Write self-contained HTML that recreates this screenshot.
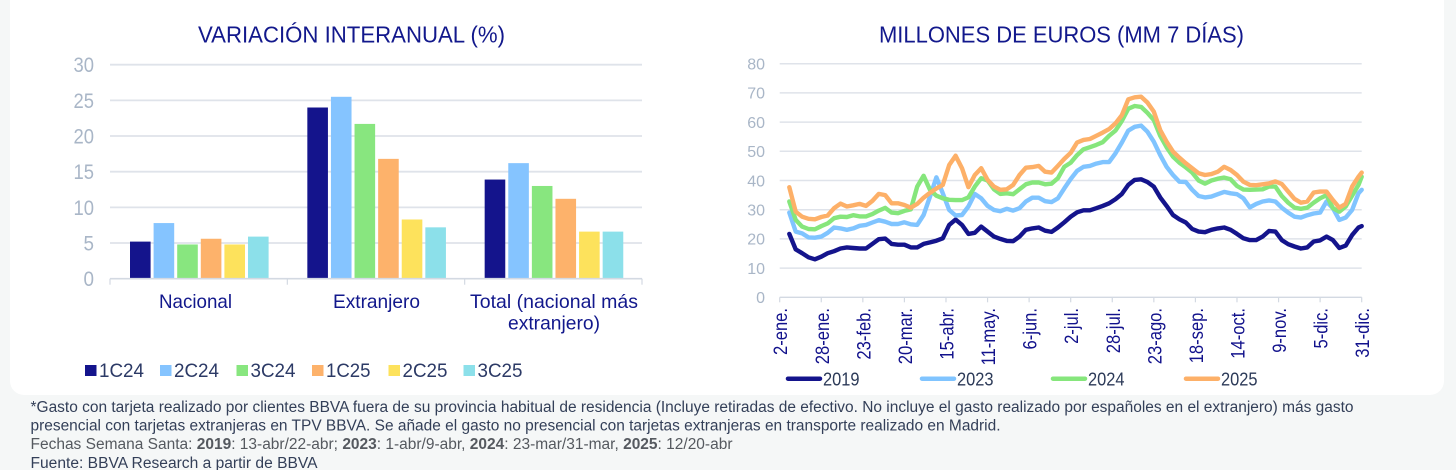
<!DOCTYPE html>
<html lang="es">
<head>
<meta charset="utf-8">
<title>Gasto con tarjeta BBVA</title>
<style>
html,body{margin:0;padding:0;background:#f5f7f7;}
body{width:1456px;height:470px;overflow:hidden;position:relative;font-family:"Liberation Sans",sans-serif;}
#card{position:absolute;left:10px;top:-20px;width:1434px;height:415px;background:#fff;border-radius:14px;}
svg{position:absolute;left:0;top:0;}
text{font-family:"Liberation Sans",sans-serif;}
</style>
</head>
<body>
<div id="card"></div>
<svg id="s" width="1456" height="470" viewBox="0 0 1456 470">
  <text x="351.5" y="42.5" text-anchor="middle" font-size="23.5" fill="#12188c" textLength="307" lengthAdjust="spacingAndGlyphs">VARIACIÓN INTERANUAL (%)</text>
  <text x="1061.5" y="42.5" text-anchor="middle" font-size="23.5" fill="#12188c" textLength="365" lengthAdjust="spacingAndGlyphs">MILLONES DE EUROS (MM 7 DÍAS)</text>
  <g id="left"></g>
  <g id="right"></g>
  <g fill="#333f58" font-size="15.5">
    <text x="30.5" y="412" textLength="1323" lengthAdjust="spacingAndGlyphs">*Gasto con tarjeta realizado por clientes BBVA fuera de su provincia habitual de residencia (Incluye retiradas de efectivo. No incluye el gasto realizado por españoles en el extranjero) más gasto</text>
    <text x="30.5" y="430.5" textLength="970" lengthAdjust="spacingAndGlyphs">presencial con tarjetas extranjeras en TPV BBVA. Se añade el gasto no presencial con tarjetas extranjeras en transporte realizado en Madrid.</text>
    <text x="30.5" y="449" fill="#55595f" textLength="702" lengthAdjust="spacingAndGlyphs">Fechas Semana Santa: <tspan font-weight="bold">2019</tspan>: 13-abr/22-abr; <tspan font-weight="bold">2023</tspan>: 1-abr/9-abr, <tspan font-weight="bold">2024</tspan>: 23-mar/31-mar, <tspan font-weight="bold">2025</tspan>: 12/20-abr</text>
    <text x="30.5" y="468" textLength="287" lengthAdjust="spacingAndGlyphs">Fuente: BBVA Research a partir de BBVA</text>
  </g>
</svg>
<script>
// ---- Left chart data ----
const barCategories = [["Nacional"], ["Extranjero"], ["Total (nacional más", "extranjero)"]];
const barSeriesNames = ["1C24", "2C24", "3C24", "1C25", "2C25", "3C25"];
const bars1C24 = [5.2, 24.0, 13.9];
const bars2C24 = [7.8, 25.5, 16.2];
const bars3C24 = [4.8, 21.7, 13.0];
const bars1C25 = [5.6, 16.8, 11.2];
const bars2C25 = [4.8, 8.3, 6.6];
const bars3C25 = [5.9, 7.2, 6.6];
const barTicks = [0, 5, 10, 15, 20, 25, 30];

// ---- Right chart data ----
const lineTickLabels = ["2-ene.", "28-ene.", "23-feb.", "20-mar.", "15-abr.", "11-may.", "6-jun.", "2-jul.", "28-jul.", "23-ago.", "18-sep.", "14-oct.", "9-nov.", "5-dic.", "31-dic."];
const lineTickDays = [0, 26, 52, 78, 104, 130, 156, 182, 208, 234, 260, 286, 312, 338, 364];
const lineYTicks = [0, 10, 20, 30, 40, 50, 60, 70, 80];
const lineDays = [6,10,14,18,22,26,30,34,38,42,46,50,54,58,62,66,70,74,78,82,86,90,94,98,102,106,110,114,118,122,126,130,134,138,142,146,150,154,158,162,166,170,174,178,182,186,190,194,198,202,206,210,214,218,222,226,230,234,238,242,246,250,254,258,262,266,270,274,278,282,286,290,294,298,302,306,310,314,318,322,326,330,334,338,342,346,350,354,358,362,364];
const line2019 = [21.7,16.4,15.1,13.7,13.0,13.9,15.1,15.8,16.7,17.1,16.9,16.7,16.7,18.3,19.9,20.1,18.3,18.0,18.0,17.1,17.1,18.3,18.8,19.4,20.2,24.8,26.6,24.8,21.7,22.1,24.2,22.5,20.8,20.0,19.3,19.2,20.8,23.1,23.6,23.9,22.8,22.4,23.9,25.7,27.6,29.1,29.8,29.8,30.5,31.3,32.2,33.6,35.4,38.5,40.2,40.4,39.5,37.9,34.2,31.3,28.2,26.7,25.6,23.4,22.5,22.3,23.1,23.6,23.9,23.1,21.7,20.2,19.6,19.6,20.8,22.7,22.5,19.6,18.2,17.4,16.7,17.1,19.1,19.5,20.8,19.6,16.9,17.7,21.3,23.9,24.4];
const line2023 = [29.0,22.5,21.9,20.5,20.4,20.8,22.1,23.9,23.6,23.1,23.6,24.5,24.8,25.6,26.4,25.9,25.1,25.1,25.7,25.0,24.8,28.2,34.5,41.1,35.6,29.9,28.0,28.2,31.1,35.4,33.9,31.3,29.9,29.5,30.3,29.7,30.5,32.8,34.1,34.1,32.9,32.6,33.9,37.3,40.5,43.3,44.7,45.0,45.8,46.3,46.3,49.3,53.0,57.1,58.4,58.8,56.7,53.3,48.7,44.7,41.9,39.6,39.5,36.8,34.7,34.2,34.5,35.3,36.1,35.6,35.3,33.9,30.8,32.0,32.8,33.2,32.8,30.7,29.0,27.6,27.3,28.1,28.7,29.0,32.8,30.5,26.5,27.3,29.9,35.6,36.8];
const line2024 = [32.8,26.5,24.2,23.4,23.3,24.4,25.3,27.1,27.6,27.5,28.1,27.7,27.7,28.5,29.7,30.6,29.0,28.8,29.6,30.1,37.9,41.6,36.8,34.8,33.9,33.4,33.3,33.3,34.2,37.9,40.8,40.0,37.0,35.4,35.6,35.3,37.0,38.7,39.3,39.3,38.7,38.9,40.8,44.7,46.1,48.7,50.7,51.4,52.2,53.1,55.3,57.1,60.4,64.6,65.5,65.2,63.2,60.7,55.3,51.4,48.2,46.1,44.5,42.7,40.0,38.9,40.0,40.6,41.0,40.4,38.1,36.9,36.8,36.9,37.0,37.9,37.9,34.7,32.4,30.7,30.3,30.7,32.4,33.9,35.0,30.5,29.3,31.1,34.8,38.5,41.3];
const line2025 = [37.7,29.3,27.6,26.9,26.7,27.5,28.0,30.5,32.1,31.1,31.5,32.0,31.3,33.0,35.4,35.0,32.2,32.2,31.6,30.7,32.0,34.1,35.8,37.3,38.5,45.3,48.5,44.2,37.7,41.9,44.2,40.2,37.9,36.8,37.0,38.5,41.9,44.4,44.6,45.0,43.0,42.7,45.0,47.4,49.5,53.0,53.9,54.2,55.3,56.4,57.6,59.6,62.4,67.8,68.5,68.7,66.7,63.6,57.3,53.3,49.9,47.8,45.9,44.2,42.5,41.9,42.2,43.0,44.7,43.6,41.9,39.6,38.5,38.4,38.7,39.0,39.7,38.8,36.2,33.7,32.4,32.8,35.9,36.2,36.2,33.3,30.7,32.0,37.9,41.3,42.7];

const NS = "http://www.w3.org/2000/svg";
function mk(parent, tag, attrs, txt) {
  const el = document.createElementNS(NS, tag);
  for (const k in attrs) el.setAttribute(k, attrs[k]);
  if (txt !== undefined) el.textContent = txt;
  parent.appendChild(el);
  return el;
}

// ---- Left chart ----
(function () {
  const g = document.getElementById("left");
  const x0 = 110, x1 = 642, yZero = 278.7, yTop = 64.7, yMax = 30;
  const y = v => yZero - (v / yMax) * (yZero - yTop);
  const groupW = (x1 - x0) / barCategories.length;
  const barW = 20.6, barStep = 23.6, pad = 20;
  const barX = (c, s) => x0 + c * groupW + pad + s * barStep;
  const colors = ["#14148c", "#85c4ff", "#88e67f", "#fdb26b", "#fde25c", "#8ce0ea"];
  const series = [bars1C24, bars2C24, bars3C24, bars1C25, bars2C25, bars3C25];

  barTicks.forEach(t => {
    if (t > 0) {
      const l = mk(g, "line", { x1: x0, x2: x1, y1: y(t), y2: y(t), stroke: "#dfe3ea", "stroke-width": 1.8 });
      
      
    }
    const lab = mk(g, "text", { x: 94, y: y(t) + 7.5, "text-anchor": "end", "font-size": 21.5, fill: "#a9b6c7", textLength: t < 10 ? 10.5 : 20.5, lengthAdjust: "spacingAndGlyphs" }, String(t));
    
    
  });

  series.forEach((vals, s) => {
    vals.forEach((v, c) => {
      const r = mk(g, "rect", { x: barX(c, s), y: y(v), width: barW, height: yZero - y(v), fill: colors[s] });
      
      
    });
  });

  const axis = mk(g, "line", { x1: x0, x2: x1, y1: yZero, y2: yZero, stroke: "#d3d9e2", "stroke-width": 1.6 });
  
  
  for (let i = 0; i <= barCategories.length; i++) {
    const tx = x0 + i * groupW;
    const tk = mk(g, "line", { x1: tx, x2: tx, y1: yZero, y2: yZero + 6, stroke: "#d3d9e2", "stroke-width": 1.2 });
    
    
  }
  const catWidths = [[73], [87], [168, 92]];
  const catCx = [195.5, 376.5, 554];
  barCategories.forEach((lines, c) => {
    lines.forEach((ln, i) => {
      const t = mk(g, "text", { x: catCx[c], y: 308 + i * 21.5, "text-anchor": "middle", "font-size": 19.5, fill: "#12188c", textLength: catWidths[c][i], lengthAdjust: "spacingAndGlyphs" }, ln);
      
      
    });
  });

  const legendX = [85, 160, 236.5, 312, 388.5, 463.5];
  const legendW = [45, 45, 45, 44.5, 45, 45];
  barSeriesNames.forEach((n, s) => {
    const sw = mk(g, "rect", { x: legendX[s], y: 365, width: 11.5, height: 11, fill: colors[s] });
    
    
    const t = mk(g, "text", { x: legendX[s] + 14, y: 377, "font-size": 19.5, fill: "#2c3a66", textLength: legendW[s], lengthAdjust: "spacingAndGlyphs" }, n);
    
    
  });
})();

// ---- Right chart ----
(function () {
  const g = document.getElementById("right");
  const x0 = 779.7, x1 = 1361.7, yZero = 297.3, yTop = 63.7, yMax = 80, dayMax = 364;
  const y = v => yZero - (v / yMax) * (yZero - yTop);
  const x = d => x0 + (d / dayMax) * (x1 - x0);

  lineYTicks.forEach(t => {
    if (t > 0) {
      const l = mk(g, "line", { x1: x0, x2: x1, y1: y(t), y2: y(t), stroke: "#dfe3ea", "stroke-width": 1.5 });
      
      
    }
    const lab = mk(g, "text", { x: 765, y: y(t) + 5.8, "text-anchor": "end", "font-size": 16, fill: "#a9b6c7" }, String(t));
    
    
  });

  const axis = mk(g, "line", { x1: x0, x2: x1, y1: yZero, y2: yZero, stroke: "#d3d9e2", "stroke-width": 1.4 });
  
  

  lineTickDays.forEach((d, i) => {
    const tk = mk(g, "line", { x1: x(d), x2: x(d), y1: yZero, y2: yZero + 5, stroke: "#d3d9e2", "stroke-width": 1.2 });
    
    
    const px = x(d) + 7.5;
    const t = mk(g, "text", { x: px, y: 308, "text-anchor": "end", "font-size": 19.5, fill: "#12128c", transform: "rotate(-90 " + px + " 308)", lengthAdjust: "spacingAndGlyphs" }, lineTickLabels[i]);
    t.setAttribute("textLength", (t.getComputedTextLength() * 0.85).toFixed(1));
    
    
  });

  const names = ["2019", "2023", "2024", "2025"];
  const colors = ["#14148c", "#80c4ff", "#86e67c", "#fdb068"];
  const data = [line2019, line2023, line2024, line2025];
  data.forEach((vals, s) => {
    const pts = vals.map((v, i) => x(lineDays[i]).toFixed(1) + "," + y(v).toFixed(1)).join(" ");
    const p = mk(g, "polyline", { points: pts, fill: "none", stroke: colors[s], "stroke-width": 4.4, "stroke-linejoin": "round", "stroke-linecap": "round" });
    
    
  });

  const legX = [786, 920, 1051, 1184];
  names.forEach((n, s) => {
    const l = mk(g, "line", { x1: legX[s] + 2, x2: legX[s] + 34, y1: 378.7, y2: 378.7, stroke: colors[s], "stroke-width": 4.5, "stroke-linecap": "round" });
    
    
    const t = mk(g, "text", { x: legX[s] + 37, y: 385.5, "font-size": 18, fill: "#2c3a58", textLength: 36.5, lengthAdjust: "spacingAndGlyphs" }, n);
    
    
  });
})();
</script>
</body>
</html>
